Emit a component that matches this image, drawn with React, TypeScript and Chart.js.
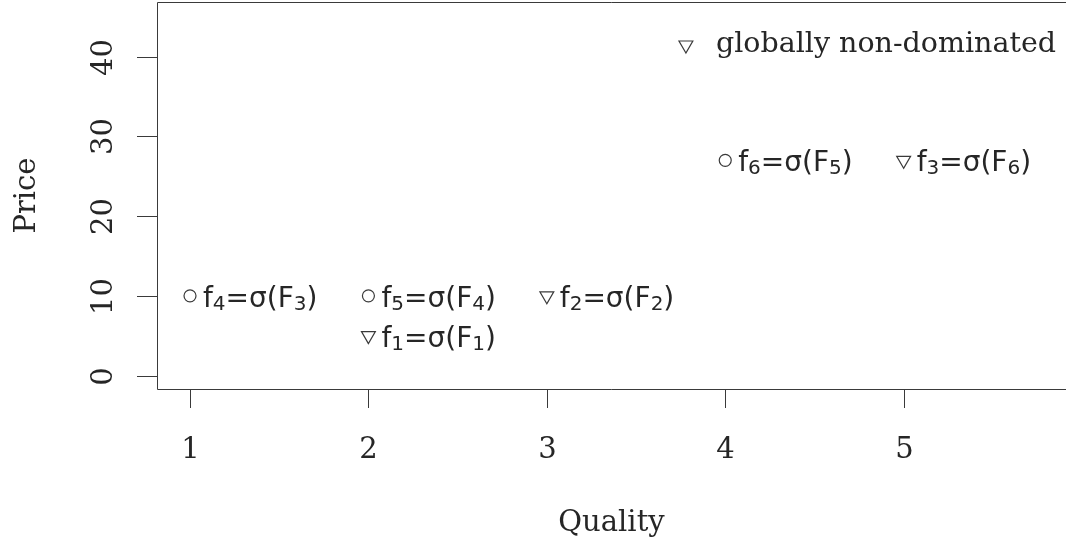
import React, { useEffect, useRef } from "react";
import { Chart, registerables } from "chart.js";

Chart.register(...registerables);

// ---- data ----
const dominatedQuality = [1, 2, 4];
const dominatedPrice = [10, 10, 27];
const dominatedLabels = ["f_4=σ(F_3)", "f_5=σ(F_4)", "f_6=σ(F_5)"];

const nonDominatedQuality = [2, 3, 5];
const nonDominatedPrice = [5, 10, 27];
const nonDominatedLabels = ["f_1=σ(F_1)", "f_2=σ(F_2)", "f_3=σ(F_6)"];

const xTicks = [1, 2, 3, 4, 5];
const yTicks = [0, 10, 20, 30, 40];
const xTitle = "Quality";
const yTitle = "Price";
const legendText = "globally non-dominated";

const W = 1066;
const H = 547;
const INK = "#262626";
const LINE = "#3a3a3a";
const SERIF = "'DejaVu Serif', serif";
const SANS = "'DejaVu Sans', sans-serif";

function drawRich(ctx: CanvasRenderingContext2D, text: string, x: number, baseline: number) {
  const parts = text.split(/_(\d)/);
  let cx = x;
  ctx.textAlign = "left";
  ctx.textBaseline = "alphabetic";
  parts.forEach((p, i) => {
    if (!p) return;
    const isSub = i % 2 === 1;
    ctx.font = isSub ? `20px ${SANS}` : `28px ${SANS}`;
    ctx.fillText(p, cx, baseline + (isSub ? 3 : 0));
    cx += ctx.measureText(p).width;
  });
}

const decorPlugin = {
  id: "decor",
  afterDatasetsDraw(chart: any) {
    const ctx: CanvasRenderingContext2D = chart.ctx;
    const { left, right, top, bottom } = chart.chartArea;
    const xs = chart.scales.x;
    const ys = chart.scales.y;
    ctx.save();
    ctx.strokeStyle = LINE;
    ctx.lineWidth = 1;
    // box (left, top, bottom)
    ctx.beginPath();
    ctx.moveTo(right, top + 0.5);
    ctx.lineTo(left + 0.5, top + 0.5);
    ctx.lineTo(left + 0.5, bottom + 0.5);
    ctx.lineTo(right, bottom + 0.5);
    ctx.stroke();

    ctx.fillStyle = INK;
    // x ticks
    ctx.font = `29px ${SERIF}`;
    xTicks.forEach((v) => {
      const px = Math.round(xs.getPixelForValue(v)) + 0.5;
      ctx.beginPath();
      ctx.moveTo(px, bottom);
      ctx.lineTo(px, bottom + 19);
      ctx.stroke();
      ctx.textAlign = "center";
      ctx.textBaseline = "alphabetic";
      ctx.fillText(String(v), px, bottom + 69);
    });
    // y ticks
    yTicks.forEach((v) => {
      const py = Math.round(ys.getPixelForValue(v)) + 0.5;
      ctx.beginPath();
      ctx.moveTo(left - 20, py);
      ctx.lineTo(left, py);
      ctx.stroke();
      ctx.save();
      ctx.translate(left - 45, py);
      ctx.rotate(-Math.PI / 2);
      ctx.textAlign = "center";
      ctx.textBaseline = "alphabetic";
      ctx.font = `29px ${SERIF}`;
      ctx.fillText(String(v), 0, 0);
      ctx.restore();
    });
    // titles
    ctx.font = `29px ${SERIF}`;
    ctx.textAlign = "center";
    ctx.textBaseline = "alphabetic";
    ctx.fillText(xTitle, (left + right) / 2, bottom + 142);
    ctx.save();
    ctx.translate(35, (top + bottom) / 2);
    ctx.rotate(-Math.PI / 2);
    ctx.fillText(yTitle, 0, 0);
    ctx.restore();

    // point labels
    const drawLabels = (xsArr: number[], ysArr: number[], labels: string[]) => {
      labels.forEach((lab, i) => {
        const px = xs.getPixelForValue(xsArr[i]);
        const py = ys.getPixelForValue(ysArr[i]);
        drawRich(ctx, lab, px + 13, py + 11);
      });
    };
    drawLabels(dominatedQuality, dominatedPrice, dominatedLabels);
    drawLabels(nonDominatedQuality, nonDominatedPrice, nonDominatedLabels);

    // legend
    ctx.font = `28.5px ${SERIF}`;
    ctx.textAlign = "right";
    ctx.textBaseline = "alphabetic";
    const textRight = right - 10;
    ctx.fillText(legendText, textRight, top + 50);
    const tw = ctx.measureText(legendText).width;
    const tx = textRight - tw - 30;
    const ty = top + 43;
    const r = 8;
    ctx.beginPath();
    ctx.moveTo(tx, ty + r);
    ctx.lineTo(tx - r * 0.866, ty - r * 0.5);
    ctx.lineTo(tx + r * 0.866, ty - r * 0.5);
    ctx.closePath();
    ctx.strokeStyle = LINE;
    ctx.lineWidth = 1.2;
    ctx.stroke();
    ctx.restore();
  },
};

export default function App() {
  const canvasRef = useRef<HTMLCanvasElement>(null);

  useEffect(() => {
    const canvas = canvasRef.current;
    if (!canvas) return;
    const chart = new Chart(canvas, {
      type: "scatter",
      data: {
        datasets: [
          {
            label: "dominated",
            data: dominatedQuality.map((q, i) => ({ x: q, y: dominatedPrice[i] })),
            pointStyle: "circle",
            pointRadius: 6,
            borderColor: LINE,
            borderWidth: 1.2,
            backgroundColor: "rgba(0,0,0,0)",
          },
          {
            label: legendText,
            data: nonDominatedQuality.map((q, i) => ({ x: q, y: nonDominatedPrice[i] })),
            pointStyle: "triangle",
            pointRotation: 180,
            pointRadius: 8,
            borderColor: LINE,
            borderWidth: 1.2,
            backgroundColor: "rgba(0,0,0,0)",
          },
        ],
      },
      options: {
        responsive: false,
        animation: false,
        layout: { autoPadding: false, padding: { left: 157, top: 2, right: 0, bottom: 158 } },
        plugins: { legend: { display: false }, tooltip: { enabled: false } },
        scales: {
          x: { type: "linear", min: 0.815, max: 5.91, display: false },
          y: { type: "linear", min: -1.69, max: 46.86, display: false },
        },
      },
      plugins: [decorPlugin],
    });
    return () => chart.destroy();
  }, []);

  return (
    <div style={{ position: "fixed", left: 0, top: 0, width: W, height: H, background: "#fff" }}>
      <canvas ref={canvasRef} width={W} height={H} style={{ width: W, height: H }} />
    </div>
  );
}
